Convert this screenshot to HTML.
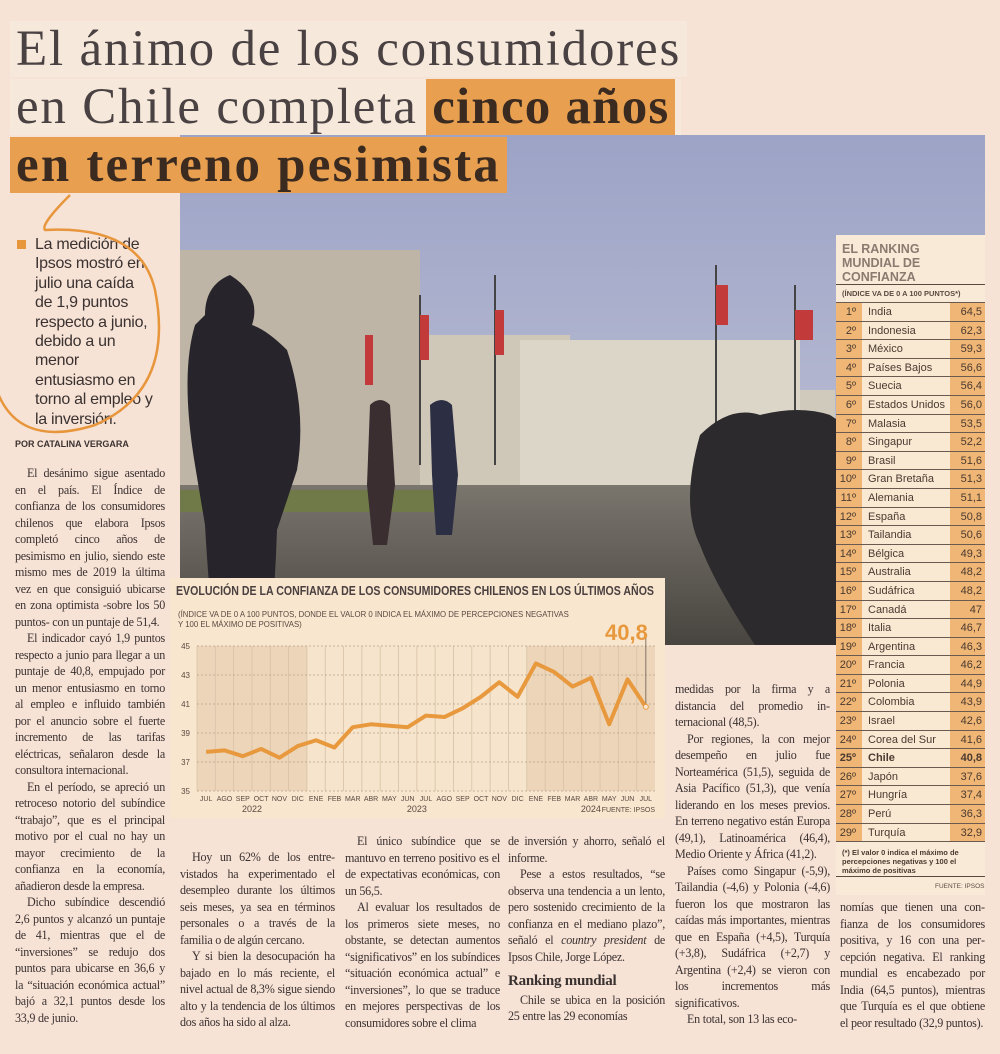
<!DOCTYPE html>
<html lang="es"><head><meta charset="utf-8">
<style>
*{margin:0;padding:0;box-sizing:border-box}
body{width:1000px;height:1054px;background:#f7e2d6;position:relative;overflow:hidden;font-family:"Liberation Serif",serif;color:#3a3230}
.abs{position:absolute}
.hl{position:absolute;z-index:3;font-family:"Liberation Serif",serif;font-size:51px;letter-spacing:1.8px;line-height:56px;white-space:nowrap;color:#4a4242;padding:0 6px}
.col{position:absolute;font-size:12.1px;line-height:16.5px;text-align:justify;color:#3a3230;letter-spacing:-0.25px}
.col p{text-indent:12px}
.tbl{position:absolute;left:836px;width:149px;font-family:"Liberation Sans",sans-serif;font-size:11px;color:#4a3a30}
.row{height:18.6px;display:flex;border-bottom:1px solid #6a5a50}
.row .r{width:26px;background:#efb676;text-align:right;padding-right:6px;line-height:18px}
.row .n{flex:1;background:#f9e8d2;padding-left:6px;line-height:18px}
.row .v{width:35px;background:#efb676;text-align:right;padding-right:3px;line-height:18px}
</style></head><body>
<div class="hl" style="left:10px;top:21px;background:#f6e9dc">El ánimo de los consumidores</div>
<div class="hl" style="left:10px;top:79px;background:#f6e9dc">en Chile completa <b style="background:#e8a050;color:#3a2a20;padding:0 6px;margin-left:-6px;letter-spacing:1.2px">cinco años</b></div>
<div class="hl" style="left:10px;top:137px;background:#e8a050;color:#3a2a20;font-weight:bold;letter-spacing:2.2px">en terreno pesimista</div>

<svg class="abs" style="left:180px;top:135px" width="805" height="510">
<defs><linearGradient id="sky" x1="0" y1="0" x2="0" y2="1"><stop offset="0" stop-color="#9ca3c6"/><stop offset="1" stop-color="#c7c8d8"/></linearGradient>
<linearGradient id="gr" x1="0" y1="0" x2="0" y2="1"><stop offset="0" stop-color="#7a766e"/><stop offset="1" stop-color="#48443f"/></linearGradient></defs>
<rect width="805" height="510" fill="url(#sky)"/>
<rect x="0" y="115" width="240" height="240" fill="#bfb5a6"/>
<rect x="240" y="200" width="150" height="150" fill="#cfc7b8"/>
<rect x="340" y="205" width="280" height="150" fill="#dcd6c8"/>
<rect x="620" y="255" width="35" height="100" fill="#d0cabc"/>
<rect x="0" y="350" width="805" height="160" fill="url(#gr)"/>
<rect x="0" y="355" width="260" height="22" fill="#6f7a48"/>
<g stroke="#444" stroke-width="2"><line x1="315" y1="140" x2="315" y2="330"/><line x1="240" y1="160" x2="240" y2="330"/><line x1="536" y1="130" x2="536" y2="320"/><line x1="615" y1="150" x2="615" y2="300"/></g>
<g fill="#c23a3a"><rect x="315" y="175" width="9" height="45"/><rect x="240" y="180" width="9" height="45"/><rect x="536" y="150" width="12" height="40"/><rect x="615" y="175" width="18" height="30"/><rect x="185" y="200" width="8" height="50"/></g>
<path d="M50 140 q-25 10 -25 40 l-10 10 q-15 50 0 140 l10 60 q5 90 15 155 h45 q10 -80 12 -150 l20 -60 q10 -60 -10 -120 q-20 -20 -35 -25 q10 -30 -22 -50z" fill="#27252b"/>
<path d="M520 300 q30 -30 60 -20 q40 -10 70 0 l30 20 l30 40 l95 20 v150 h-230 q-40 -60 -55 -100 q-20 -40 0 -110z" fill="#2c2a2c"/>
<path d="M190 270 q10 -10 20 0 l5 80 l-8 60 h-14 l-6 -60z" fill="#3a2e30"/>
<path d="M250 270 q12 -10 22 0 l6 70 l-6 60 h-16 l-4 -60z" fill="#2c2e44"/>
</svg>

<svg class="abs" style="left:0;top:190px;z-index:4" width="175" height="250"><path d="M70 5 q-30 30 -25 35 q95 -5 110 60 q20 100 -60 135 q-80 25 -100 -40 q-15 -50 0 -120" fill="none" stroke="#e8963c" stroke-width="2.5"/></svg>
<div class="abs" style="left:17px;top:240px;width:9px;height:9px;background:#e8963c"></div>
<div class="abs" style="left:35px;top:235px;width:118px;font-family:'Liberation Sans',sans-serif;font-size:16px;letter-spacing:-0.3px;line-height:19.4px;color:#3a3230">La medición de Ipsos mostró en julio una caída de 1,9 puntos respecto a junio, debido a un menor entusiasmo en torno al empleo y la inversión.</div>
<div class="abs" style="left:15px;top:439px;font-family:'Liberation Sans',sans-serif;font-size:9px;font-weight:bold">POR CATALINA VERGARA</div>

<div class="col" style="left:15px;top:465px;width:150px">
<p>El desánimo sigue asen&shy;tado en el país. El Índice de confianza de los consumi&shy;dores chilenos que elabora Ipsos completó cinco años de pesimismo en julio, siendo este mismo mes de 2019 la última vez en que consiguió ubicarse en zona optimista -sobre los 50 puntos- con un puntaje de 51,4.</p>
<p>El indicador cayó 1,9 puntos respecto a junio para llegar a un puntaje de 40,8, empujado por un menor entusiasmo en torno al empleo e influido también por el anuncio sobre el fuerte incremento de las tarifas eléctricas, señalaron desde la consultora inter&shy;nacional.</p>
<p>En el período, se apre&shy;ció un retroceso notorio del subíndice “trabajo”, que es el principal motivo por el cual no hay un mayor creci&shy;miento de la confianza en la economía, añadieron desde la empresa.</p>
<p>Dicho subíndice descen&shy;dió 2,6 puntos y alcanzó un puntaje de 41, mientras que el de “inversiones” se redujo dos puntos para ubicarse en 36,6 y la “situación económica actual” bajó a 32,1 puntos desde los 33,9 de junio.</p></div>
<div class="col" style="left:180px;top:849px;width:155px">
<p>Hoy un 62% de los entre&shy;vistados ha experimentado el desempleo durante los últimos seis meses, ya sea en términos personales o a través de la familia o de algún cercano.</p>
<p>Y si bien la desocupación ha bajado en lo más reciente, el nivel actual de 8,3% sigue siendo alto y la tendencia de los últimos dos años ha sido al alza.</p></div>
<div class="col" style="left:345px;top:833px;width:155px">
<p>El único subíndice que se mantuvo en terreno positivo es el de expectativas econó&shy;micas, con un 56,5.</p>
<p>Al evaluar los resultados de los primeros siete meses, no obstante, se detectan aumentos “significativos” en los subíndices “situación económica actual” e “inver&shy;siones”, lo que se traduce en mejores perspectivas de los consumidores sobre el clima</p></div>
<div class="col" style="left:508px;top:833px;width:157px">
<p style="text-indent:0">de inversión y ahorro, señaló el informe.</p>
<p>Pese a estos resultados, “se observa una tendencia a un lento, pero sostenido crecimiento de la confianza en el mediano plazo”, señaló el <i>country president</i> de Ipsos Chile, Jorge López.</p>
<div style="font-weight:bold;font-size:15px;margin:8px 0 2px">Ranking mundial</div>
<p>Chile se ubica en la posición 25 entre las 29 economías</p></div>
<div class="col" style="left:675px;top:681px;width:155px">
<p style="text-indent:0">medidas por la firma y a distancia del promedio in&shy;ternacional (48,5).</p>
<p>Por regiones, la con me&shy;jor desempeño en julio fue Norteamérica (51,5), seguida de Asia Pacífico (51,3), que venía liderando en los meses previos. En terreno negativo están Europa (49,1), Latinoa&shy;mérica (46,4), Medio Oriente y África (41,2).</p>
<p>Países como Singapur (-5,9), Tailandia (-4,6) y Polonia (-4,6) fueron los que mostraron las caídas más importantes, mientras que en España (+4,5), Turquía (+3,8), Sudáfrica (+2,7) y Argentina (+2,4) se vieron con los incrementos más significativos.</p>
<p>En total, son 13 las eco-</p></div>
<div class="col" style="left:840px;top:899px;width:145px">
<p style="text-indent:0">nomías que tienen una con&shy;fianza de los consumidores positiva, y 16 con una per&shy;cepción negativa. El ranking mundial es encabezado por India (64,5 puntos), mien&shy;tras que Turquía es el que obtiene el peor resultado (32,9 puntos).</p></div>

<div class="abs" style="left:836px;top:235px;width:149px;height:660px;background:#f9ead8"></div>
<div class="abs" style="left:842px;top:242px;font-family:'Liberation Sans',sans-serif;font-weight:bold;font-size:12.5px;line-height:14px;color:#8a7a70">EL RANKING<br>MUNDIAL DE<br>CONFIANZA</div>
<div class="abs" style="left:836px;top:284px;width:149px;border-top:1.5px solid #5a4a40"></div>
<div class="abs" style="left:842px;top:289px;font-family:'Liberation Sans',sans-serif;font-weight:bold;font-size:7.5px;color:#5a4a40">(ÍNDICE VA DE 0 A 100 PUNTOS*)</div>
<div class="tbl" id="tbl" style="top:302px;border-top:1px solid #6a5a50"></div>
<div class="abs" style="left:842px;top:848px;width:142px;font-family:'Liberation Sans',sans-serif;font-weight:bold;font-size:7.5px;line-height:9px;color:#4a3a30">(*) El valor 0 indica el máximo de percepciones negativas y 100 el máximo de positivas</div>
<div class="abs" style="left:836px;top:876px;width:149px;border-top:1px solid #5a4a40"></div>
<div class="abs" style="left:935px;top:883px;font-family:'Liberation Sans',sans-serif;font-size:6.5px;color:#5a4a40">FUENTE: IPSOS</div>

<svg class="abs" id="chart" style="left:170px;top:578px" width="495" height="240" font-family="Liberation Sans, sans-serif"></svg>

<script>
const rankNames=["India","Indonesia","México","Países Bajos","Suecia","Estados Unidos","Malasia","Singapur","Brasil","Gran Bretaña","Alemania","España","Tailandia","Bélgica","Australia","Sudáfrica","Canadá","Italia","Argentina","Francia","Polonia","Colombia","Israel","Corea del Sur","Chile","Japón","Hungría","Perú","Turquía"];
const rankValues=["64,5","62,3","59,3","56,6","56,4","56,0","53,5","52,2","51,6","51,3","51,1","50,8","50,6","49,3","48,2","48,2","47","46,7","46,3","46,2","44,9","43,9","42,6","41,6","40,8","37,6","37,4","36,3","32,9"];
const tbl=document.getElementById('tbl');
rankNames.forEach((n,i)=>{
 const r=document.createElement('div');r.className='row';
 
 
 const b=n==='Chile'?'font-weight:bold;':'';
 r.innerHTML=`<div class="r" style="${b}">${i+1}º</div><div class="n" style="${b}">${n}</div><div class="v" style="${b}">${rankValues[i]}</div>`;
 tbl.appendChild(r);
});

const months=["JUL","AGO","SEP","OCT","NOV","DIC","ENE","FEB","MAR","ABR","MAY","JUN","JUL","AGO","SEP","OCT","NOV","DIC","ENE","FEB","MAR","ABR","MAY","JUN","JUL"];
const values=[37.7,37.8,37.4,37.9,37.3,38.1,38.5,38.0,39.4,39.6,39.5,39.4,40.2,40.1,40.7,41.5,42.5,41.5,43.8,43.2,42.2,42.8,39.6,42.7,40.8];
const yTicks=[35,37,39,41,43,45];
const years=[{label:"2022",from:0,to:5},{label:"2023",from:6,to:17},{label:"2024",from:18,to:24}];
const NS="http://www.w3.org/2000/svg";
const svg=document.getElementById('chart');
const X0=27,X1=485,Y0=68,Y1=213,yMin=35,yMax=45;
const cw=(X1-X0)/months.length;
const xc=i=>X0+cw*(i+0.5);
const y=v=>Y1-(v-yMin)/(yMax-yMin)*(Y1-Y0);
function el(t,a,txt){const e=document.createElementNS(NS,t);for(const k in a)e.setAttribute(k,a[k]);if(txt!==undefined)e.textContent=txt;svg.appendChild(e);return e;}
let e;
e=el('rect',{x:0,y:0,width:495,height:240,fill:'#f8e6cf'});


e=el('text',{x:6,y:17,'font-size':13,'font-weight':'bold',fill:'#4a4040',textLength:478,lengthAdjust:'spacingAndGlyphs'},'EVOLUCIÓN DE LA CONFIANZA DE LOS CONSUMIDORES CHILENOS EN LOS ÚLTIMOS AÑOS');


e=el('text',{x:8,y:39,'font-size':7.8,fill:'#5a4a40'},'(ÍNDICE VA DE 0 A 100 PUNTOS, DONDE EL VALOR 0 INDICA EL MÁXIMO DE PERCEPCIONES NEGATIVAS');


e=el('text',{x:8,y:49,'font-size':7.8,fill:'#5a4a40'},'Y 100 EL MÁXIMO DE POSITIVAS)');


years.forEach((yr,k)=>{
 e=el('rect',{x:X0+cw*yr.from,y:Y0,width:cw*(yr.to-yr.from+1),height:Y1-Y0,fill:k===1?'#f6e4cc':'#ecd5b9'});
 
 
 e=el('text',{x:(xc(yr.from)+xc(yr.to))/2,y:234,'font-size':9,'text-anchor':'middle',fill:'#5a4a40'},yr.label);
 
 
});
months.forEach((m,i)=>{
 e=el('line',{x1:X0+cw*i,x2:X0+cw*i,y1:Y0,y2:Y1,stroke:'#d8c2a6','stroke-width':0.8});
 
 
 e=el('text',{x:xc(i),y:223,'font-size':7,'text-anchor':'middle',fill:'#5a4a40'},m);
 
 
});
yTicks.forEach(t=>{
 e=el('line',{x1:X0,x2:X1,y1:y(t),y2:y(t),stroke:'#b8a28a','stroke-width':0.8,'stroke-dasharray':'2,2'});
 
 
 e=el('text',{x:20,y:y(t)+3,'font-size':8,'text-anchor':'end',fill:'#5a4a40'},t);
 
 
});
const last=values.length-1;
e=el('line',{x1:xc(last),x2:xc(last),y1:60,y2:y(values[last]),stroke:'#6a5a50','stroke-width':0.8});


e=el('polyline',{points:values.map((v,i)=>xc(i)+','+y(v)).join(' '),fill:'none',stroke:'#e8993e','stroke-width':4,'stroke-linejoin':'round'});


e=el('circle',{cx:xc(last),cy:y(values[last]),r:2.5,fill:'#f8e6cf',stroke:'#e8993e','stroke-width':1});


e=el('text',{x:xc(last)+2,y:62,'font-size':22,'font-weight':'bold','text-anchor':'end',fill:'#e8993e'},String(values[last]).replace('.',','));


e=el('text',{x:485,y:234,'font-size':7,'text-anchor':'end',fill:'#5a4a40'},'FUENTE: IPSOS');


</script>
</body></html>
